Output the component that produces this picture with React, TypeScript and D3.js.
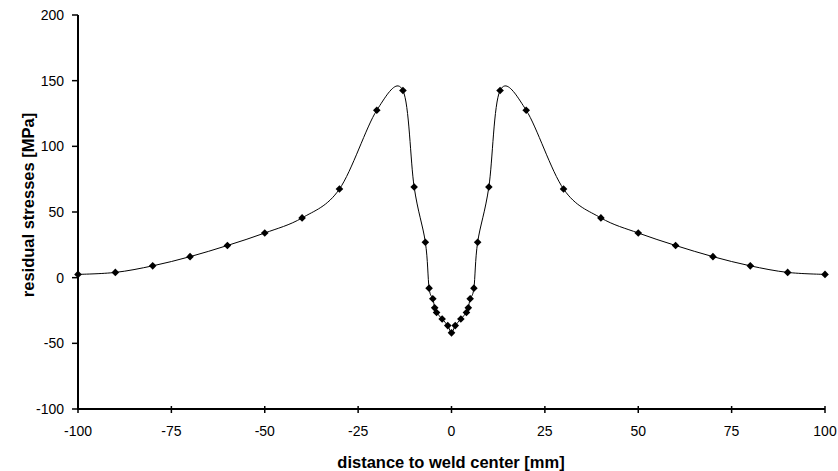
import React from "react";
import * as d3 from "d3";

// Residual stress profile across the weld (distance in mm, stress in MPa)
const distances = [
  -100, -90, -80, -70, -60, -50, -40, -30, -20, -13, -10, -7, -6, -5, -4.5, -4, -2.5, -1, 0,
  1, 2.5, 4, 4.5, 5, 6, 7, 10, 13, 20, 30, 40, 50, 60, 70, 80, 90, 100,
];
const stresses = [
  2.5, 4, 9, 16, 24.5, 34, 45.5, 67.5, 127.5, 142.5, 69, 27, -8, -16, -23, -26.5, -31.5, -36.5, -42,
  -36.5, -31.5, -26.5, -23, -16, -8, 27, 69, 142.5, 127.5, 67.5, 45.5, 34, 24.5, 16, 9, 4, 2.5,
];
const xTicks = [-100, -75, -50, -25, 0, 25, 50, 75, 100];
const yTicks = [-100, -50, 0, 50, 100, 150, 200];

const W = 838;
const H = 471;
const left = 78;
const right = 825;
const top = 15;
const bottom = 409;

export default function App() {
  const x = d3.scaleLinear().domain([-100, 100]).range([left, right]);
  const y = d3.scaleLinear().domain([-100, 200]).range([bottom, top]);
  const pts = distances.map((d, i) => [d, stresses[i]] as [number, number]);
  const line = d3
    .line<[number, number]>()
    .x((p) => x(p[0]))
    .y((p) => y(p[1]))
    .curve(d3.curveCardinal.tension(0));
  // square diamond marker
  const r = 3.8;
  const diamond = `M0,${-r}L${r},0L0,${r}L${-r},0Z`;
  const font = "'Liberation Sans', Arial, sans-serif";

  return (
    <svg
      width={W}
      height={H}
      style={{ position: "absolute", left: 0, top: 0, background: "#fff" }}
      fontFamily={font}
    >
      <rect width={W} height={H} fill="#fff" />
      {/* data line and markers */}
      <path d={line(pts) || ""} fill="none" stroke="#000" strokeWidth={1} />
      {pts.map((p, i) => (
        <path key={i} d={diamond} transform={`translate(${x(p[0])},${y(p[1])})`} fill="#000" />
      ))}
      {/* y axis */}
      <line x1={left} x2={left} y1={top} y2={bottom + 1} stroke="#000" strokeWidth={2} />
      {yTicks.map((t) => (
        <g key={t}>
          <line x1={left - 6} x2={left} y1={y(t)} y2={y(t)} stroke="#000" strokeWidth={1.5} />
          <text x={left - 14} y={y(t)} dy="0.35em" textAnchor="end" fontSize={14} fill="#000">
            {t}
          </text>
        </g>
      ))}
      {/* x axis */}
      <line x1={left - 1} x2={right} y1={bottom} y2={bottom} stroke="#000" strokeWidth={2} />
      {xTicks.map((t) => (
        <g key={t}>
          <line x1={x(t)} x2={x(t)} y1={bottom - 3} y2={bottom + 4} stroke="#000" strokeWidth={1.5} />
          <text x={x(t)} y={436} textAnchor="middle" fontSize={14} fill="#000">
            {t}
          </text>
        </g>
      ))}
      <text x={451} y={468} textAnchor="middle" fontSize={16.5} fontWeight="bold" fill="#000">
        distance to weld center [mm]
      </text>
      <text
        transform={`translate(34,205) rotate(-90)`}
        textAnchor="middle"
        fontSize={16.5}
        fontWeight="bold"
        fill="#000"
      >
        residual stresses [MPa]
      </text>
    </svg>
  );
}
